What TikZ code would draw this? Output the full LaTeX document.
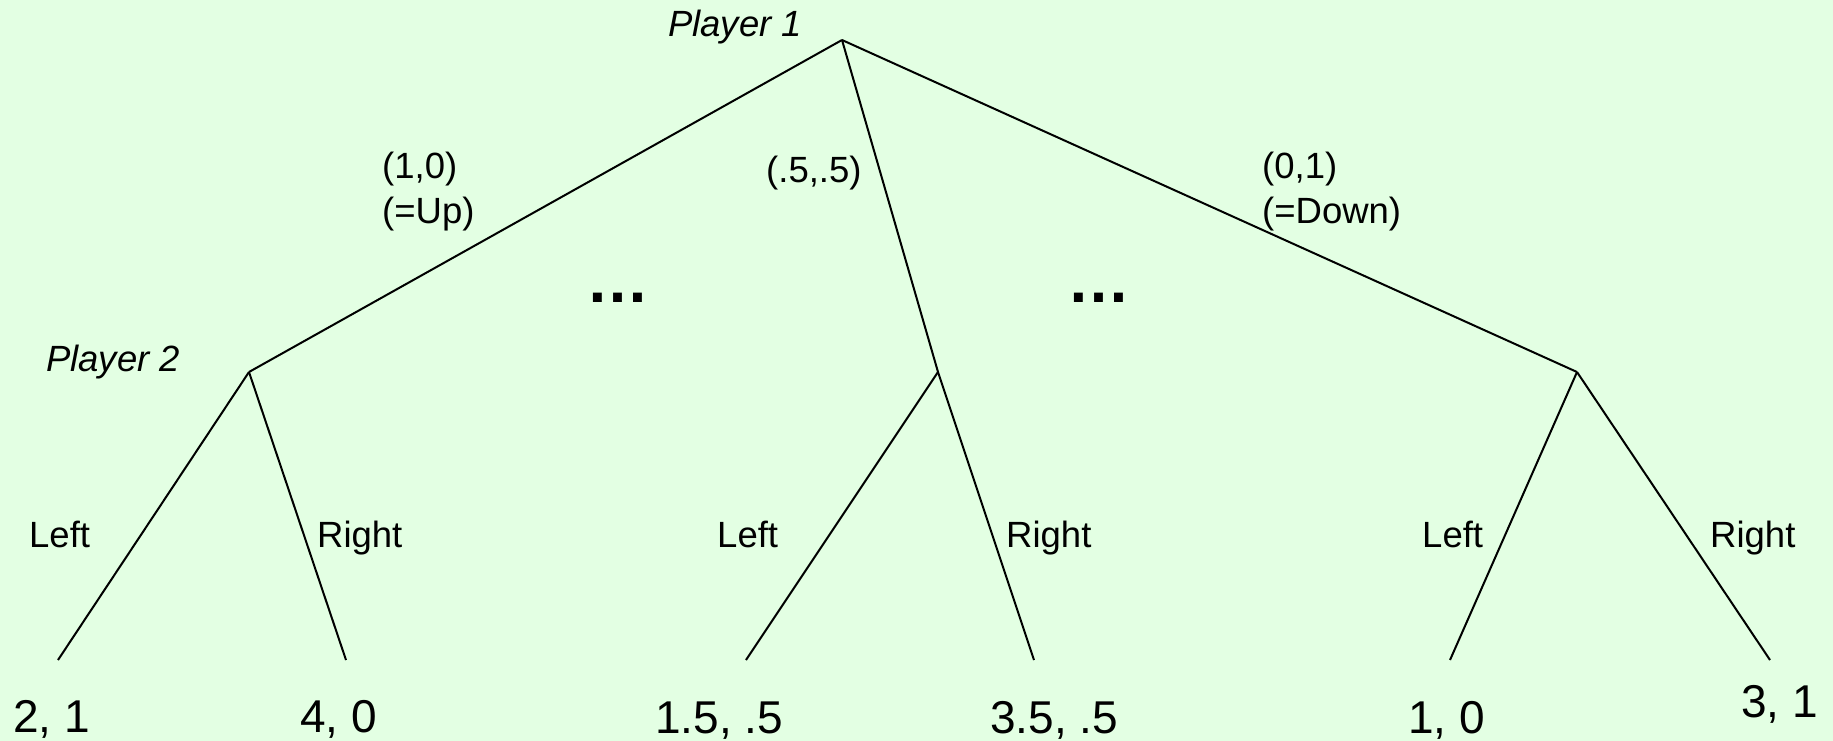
\documentclass[tikz,border=0pt]{standalone}
\usepackage{fontspec}
\setmainfont{Liberation Sans}
\begin{document}
\begin{tikzpicture}[x=1pt,y=-1pt,
  edge/.style={line width=2pt,black},
  lbl/.style={anchor=base west,inner sep=0pt,font=\fontsize{36.5}{45}\selectfont},
  plr/.style={lbl,font=\fontsize{36.5}{45}\selectfont\itshape},
  pay/.style={anchor=base west,inner sep=0pt,font=\fontsize{46}{55}\selectfont},
  dots/.style={anchor=base west,inner sep=0pt,font=\fontsize{63}{70}\selectfont\bfseries}]
\definecolor{bg}{RGB}{227,255,227}
\fill[bg] (0,0) rectangle (1833,741);
\useasboundingbox (0,0) rectangle (1833,741);
% vertices
\coordinate (r) at (842,40);
\coordinate (a) at (249,372);
\coordinate (b) at (938,372);
\coordinate (c) at (1577,372);
\coordinate (a1) at (58,660);
\coordinate (a2) at (346,660);
\coordinate (b1) at (746,660);
\coordinate (b2) at (1034,660);
\coordinate (c1) at (1450,660);
\coordinate (c2) at (1770,660);
% edges
\draw[edge] (r) -- (a);
\draw[edge] (r) -- (b);
\draw[edge] (r) -- (c);
\draw[edge] (a) -- (a1);
\draw[edge] (a) -- (a2);
\draw[edge] (b) -- (b1);
\draw[edge] (b) -- (b2);
\draw[edge] (c) -- (c1);
\draw[edge] (c) -- (c2);
% player labels
\node[plr] (p1) at (668,37) {Player 1};
\node[plr] (p2) at (46,371) {Player 2};
% mixed strategy labels
\node[lbl] (s1) at (382,178) {(1,0)};
\node[lbl] (s1b) at (382,223) {(=Up)};
\node[lbl] (s2) at (766,182) {(.5,.5)};
\node[lbl] (s3) at (1262,178) {(0,1)};
\node[lbl] (s3b) at (1262,223) {(=Down)};
\node[dots] (d1) at (586,302) {\char"2026};
\node[dots] (d2) at (1067,302) {\char"2026};
% action labels
\node[lbl] (la) at (29,547) {Left};
\node[lbl] (ra) at (317,547) {Right};
\node[lbl] (lb) at (717,547) {Left};
\node[lbl] (rb) at (1006,547) {Right};
\node[lbl] (lc) at (1422,547) {Left};
\node[lbl] (rc) at (1710,547) {Right};
% payoffs
\node[pay] (v1) at (13,732) {2, 1};
\node[pay] (v2) at (300,732) {4, 0};
\node[pay] (v3) at (655,733) {1.5, .5};
\node[pay] (v4) at (990,733) {3.5, .5};
\node[pay] (v5) at (1408,733) {1, 0};
\node[pay] (v6) at (1741,717) {3, 1};
\end{tikzpicture}
\end{document}
